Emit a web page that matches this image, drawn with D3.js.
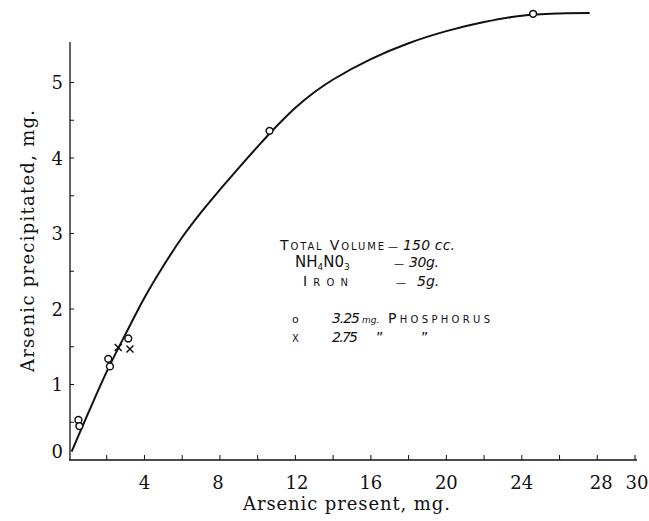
<!DOCTYPE html>
<html><head><meta charset="utf-8">
<script src="https://cdn.jsdelivr.net/npm/d3@7"></script>
<style>
body{margin:0;background:#fff;}
svg{display:block;}
.tick-label{font-family:"DejaVu Serif",serif;font-size:18px;fill:#111;}
.axis-title{font-family:"DejaVu Serif",serif;font-size:18px;fill:#111;}
.note{font-family:"DejaVu Sans",sans-serif;font-size:14px;fill:#111;}
.sc{font-variant:small-caps;}
.num{font-style:italic;font-size:14px;}
</style></head>
<body>
<svg id="chart" width="649" height="521"></svg>
<script>
// Data
const xTicks = [2,4,6,8,10,12,14,16,18,20,22,24,26,28,30];
const xTickLabels = [4,8,12,16,20,24,28,30];
const yTicks = [0.5,1,1.5,2,2.5,3,3.5,4,4.5,5];
const yTickLabels = [0,1,2,3,4,5];
// circles: 3.25 mg phosphorus
const circleX = [0.5, 0.55, 2.08, 2.17, 3.14, 10.63, 24.6];
const circleY = [0.53, 0.45, 1.34, 1.24, 1.61, 4.36, 5.91];
// crosses: 2.75 mg phosphorus
const crossX = [2.61, 3.23];
const crossY = [1.49, 1.47];
// hand-drawn curve, read along its length
const curveX = [0.14, 1, 2, 3, 4, 5, 6, 7, 8, 9, 10, 11, 12, 13, 14, 16, 18, 20, 22, 24, 26, 27.6];
const curveY = [0.11, 0.61, 1.17, 1.67, 2.15, 2.57, 2.95, 3.28, 3.58, 3.87, 4.15, 4.42, 4.665, 4.87, 5.04, 5.31, 5.52, 5.68, 5.80, 5.885, 5.915, 5.92];

const svg = d3.select("#chart");
const x = d3.scaleLinear().domain([0,30]).range([69,635]);
const y = d3.scaleLinear().domain([0,5.5]).range([460,44.75]);

const ink = "#111";
// axes lines
svg.append("line").attr("x1",x(0)).attr("x2",x(30)+2).attr("y1",y(0)).attr("y2",y(0))
  .attr("stroke",ink).attr("stroke-width",1.3);
svg.append("line").attr("x1",x(0)+1).attr("x2",x(0)+1).attr("y1",y(0)).attr("y2",42)
  .attr("stroke",ink).attr("stroke-width",1.3);

// x ticks (inward)
const xLabelShift = {8:-2, 12:1.5, 28:4, 30:2};
svg.append("g").selectAll("line").data(xTicks).join("line")
  .attr("x1",d=>x(d)).attr("x2",d=>x(d)).attr("y1",y(0)).attr("y2",y(0)-5)
  .attr("stroke",ink).attr("stroke-width",1);
svg.append("g").selectAll("text").data(xTickLabels).join("text")
  .attr("class","tick-label").attr("x",d=>x(d)+(xLabelShift[d]||0)).attr("y",489)
  .attr("text-anchor","middle").text(d=>d);

// y ticks (inward)
svg.append("g").selectAll("line").data(yTicks).join("line")
  .attr("x1",x(0)+1).attr("x2",x(0)+5).attr("y1",d=>y(d)).attr("y2",d=>y(d))
  .attr("stroke",ink).attr("stroke-width",1);
svg.append("g").selectAll("text").data(yTickLabels).join("text")
  .attr("class","tick-label").attr("x",63).attr("y",d=>d===0?y(d)-2:y(d)+6.5)
  .attr("text-anchor","end").text(d=>d);

// axis titles
svg.append("text").attr("class","axis-title").attr("x",243).attr("y",510)
  .attr("textLength",207).attr("lengthAdjust","spacing").text("Arsenic present, mg.");
svg.append("text").attr("class","axis-title")
  .attr("transform","translate(34,372) rotate(-90)")
  .attr("textLength",262).attr("lengthAdjust","spacing").text("Arsenic precipitated, mg.");

// curve
const pts = curveX.map((v,i)=>[v,curveY[i]]);
svg.append("path").datum(pts)
  .attr("d", d3.line().x(d=>x(d[0])).y(d=>y(d[1])).curve(d3.curveCatmullRom.alpha(0.5)))
  .attr("fill","none").attr("stroke",ink).attr("stroke-width",2);

// circles
svg.append("g").selectAll("circle").data(circleX.map((v,i)=>[v,circleY[i]])).join("circle")
  .attr("cx",d=>x(d[0])).attr("cy",d=>y(d[1])).attr("r",3.4)
  .attr("fill","#fff").attr("stroke",ink).attr("stroke-width",1.5);
// crosses
const cs = 3.5;
svg.append("g").selectAll("path").data(crossX.map((v,i)=>[v,crossY[i]])).join("path")
  .attr("d",d=>{const cx=x(d[0]),cy=y(d[1]);return `M${cx-cs},${cy-cs}L${cx+cs},${cy+cs}M${cx+cs},${cy-cs}L${cx-cs},${cy+cs}`;})
  .attr("stroke",ink).attr("stroke-width",1.5).attr("fill","none");

// annotation
const note = svg.append("g").attr("class","note");
function t(xp, yp, str, cls, len){
  const e = note.append("text").attr("x",xp).attr("y",yp).text(str);
  if (cls) e.attr("class",cls);
  if (len) e.attr("textLength",len).attr("lengthAdjust","spacing");
  return e;
}
t(280,250,"Total Volume","sc",104);
t(388,250,"\u2014").attr("font-size","10px");
t(403,250,"150 cc.","num",52);
const nh = note.append("text").attr("x",295).attr("y",267).attr("font-size","15px");
nh.append("tspan").text("NH");
nh.append("tspan").attr("font-size","9px").attr("dy",2.5).text("4");
nh.append("tspan").attr("dy",-2.5).text("N0");
nh.append("tspan").attr("font-size","9px").attr("dy",2.5).text("3");
t(394,267,"\u2014").attr("font-size","10px");
t(409,267,"30g.","num",30);
t(303,286,"Iron","sc",45);
t(396,286,"\u2014").attr("font-size","10px");
t(417,286,"5g.","num");
t(292,323,"o").attr("font-size","11px");
t(332,323,"3.25","num",28);
note.append("text").attr("x",362).attr("y",323).attr("font-size","9px").attr("font-style","italic").text("mg.");
t(388,323,"Phosphorus","sc",102);
t(292,342,"x","sc");
t(332,342,"2.75","num",26);
t(376,342,"\u201D");
t(421,342,"\u201D");
</script>
</body></html>
